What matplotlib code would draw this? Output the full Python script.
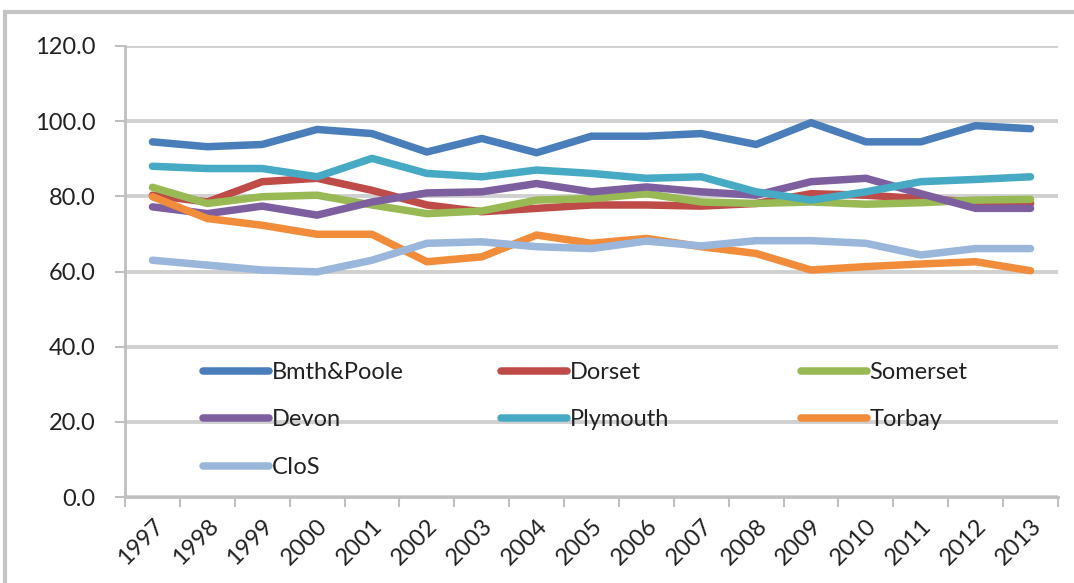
import matplotlib
matplotlib.use("Agg")
import matplotlib.pyplot as plt
from matplotlib.patches import Rectangle

years = ["1997", "1998", "1999", "2000", "2001", "2002", "2003", "2004", "2005",
         "2006", "2007", "2008", "2009", "2010", "2011", "2012", "2013"]

bmth_poole = [94.5, 93.2, 93.8, 97.8, 96.7, 91.8, 95.4, 91.6, 96.0, 96.0, 96.7, 93.8, 99.6, 94.5, 94.5, 98.8, 98.0]
dorset = [80.3, 78.5, 83.9, 84.8, 81.6, 77.7, 75.9, 76.8, 77.7, 77.7, 77.4, 78.1, 80.7, 80.3, 79.4, 78.5, 78.1]
somerset = [82.4, 78.1, 79.9, 80.3, 77.7, 75.4, 76.1, 79.0, 79.4, 80.7, 78.5, 78.1, 78.5, 77.9, 78.3, 79.0, 79.2]
devon = [77.2, 75.4, 77.4, 75.0, 78.5, 80.9, 81.2, 83.4, 81.2, 82.5, 81.2, 80.3, 83.9, 84.8, 80.7, 76.8, 76.8]
plymouth = [88.0, 87.4, 87.4, 85.2, 90.1, 86.1, 85.2, 87.0, 86.1, 84.8, 85.2, 81.2, 79.0, 81.2, 83.9, 84.5, 85.2]
torbay = [79.9, 74.1, 72.3, 69.9, 69.9, 62.6, 63.9, 69.7, 67.5, 68.8, 66.6, 64.8, 60.4, 61.3, 62.0, 62.6, 60.2]
cios = [63.0, 61.7, 60.4, 59.9, 63.0, 67.5, 67.9, 66.6, 66.1, 68.1, 66.8, 68.2, 68.2, 67.5, 64.4, 66.1, 66.1]

series_names = ["Bmth&Poole", "Dorset", "Somerset", "Devon", "Plymouth", "Torbay", "CIoS"]
series_values = [bmth_poole, dorset, somerset, devon, plymouth, torbay, cios]
series_colors = ["#4A7EBB", "#BE4B48", "#98B954", "#7D5FA0", "#46AAC5", "#F08C3A", "#9AB6DA"]

yticks = [0, 20, 40, 60, 80, 100, 120]

plt.rcParams['font.family'] = ['Lato', 'DejaVu Sans']

W, H = 1074, 583
fig = plt.figure(figsize=(W / 100, H / 100), dpi=100)
fig.patch.set_facecolor("white")

# chart border (cropped Excel chart frame)
fig.add_artist(Rectangle((5 / W, -0.05), 1.2, 1 - 12 / H + 0.05, transform=fig.transFigure,
                         fill=False, edgecolor="#C4C4C4", linewidth=3))

left, right, top, bottom = 125, 1058, 46, 497
ax = fig.add_axes([left / W, 1 - bottom / H, (right - left) / W, (bottom - top) / H])

x = list(range(len(years)))
lines = []
for name, vals, col in zip(series_names, series_values, series_colors):
    ln, = ax.plot(x, vals, color=col, linewidth=5.4, solid_capstyle="round",
                  solid_joinstyle="round", label=name)
    lines.append(ln)

FS = 17
ax.set_xlim(-0.5, len(years) - 0.5)
ax.set_ylim(0, 120)
ax.set_yticks(yticks)
ax.set_yticklabels([f"{v:.1f}" for v in yticks], fontsize=FS, color="#222222")
ax.set_xticks(x)
ax.set_xticklabels(years, rotation=45, ha="right", rotation_mode="anchor",
                   fontsize=FS, color="#222222")
ax.tick_params(axis="x", length=0, pad=13)
ax.tick_params(axis="y", length=7, width=1.5, color="#BFBFBF", pad=14)
# x tick marks between categories
ax.set_xticks([i - 0.5 for i in range(len(years) + 1)], minor=True)
ax.tick_params(axis="x", which="minor", length=7, width=1.5, color="#BFBFBF")

ax.grid(axis="y", color="#D0D0D0", linewidth=2.8)
ax.set_axisbelow(True)
for s in ["top", "right"]:
    ax.spines[s].set_visible(False)
ax.spines["left"].set_color("#BFBFBF")
ax.spines["left"].set_linewidth(2)
ax.spines["bottom"].set_color("#BFBFBF")
ax.spines["bottom"].set_linewidth(2)

# legend: three columns placed at fixed positions
col_x = [203, 501, 801]
top_y = 362
for c in range(3):
    idx = [i for i in range(c, len(lines), 3)]
    leg = ax.legend([lines[i] for i in idx], [series_names[i] for i in idx],
                    loc="upper left",
                    bbox_to_anchor=((col_x[c] - left) / (right - left), (bottom - top_y) / (bottom - top)),
                    frameon=False, fontsize=FS, handlelength=2.8, handletextpad=0.1,
                    labelspacing=1.12, borderpad=0, borderaxespad=0, labelcolor="#222222")
    if c < 2:
        ax.add_artist(leg)

fig.savefig("out.png", dpi=100, facecolor="white")
